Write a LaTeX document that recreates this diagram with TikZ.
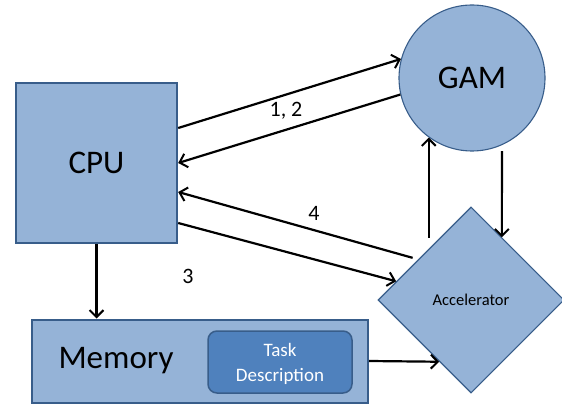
\documentclass[tikz,border=0pt]{standalone}
\usepackage{fontspec}
\setmainfont{Carlito}
\usepackage{tikz}
\usetikzlibrary{arrows.meta, positioning, shapes.geometric, calc}

\definecolor{boxfill}{HTML}{95B3D7}
\definecolor{boxline}{HTML}{385D8A}
\definecolor{taskfill}{HTML}{4F81BD}

\begin{document}
\begin{tikzpicture}[
    x=1pt, y=-1pt,
    % Block styles
    block/.style={draw=boxline, fill=boxfill, line width=1.2pt, inner sep=0pt, font=\fontsize{33}{33}\selectfont},
    cpubox/.style={block, line width=2.4pt, minimum width=161pt, minimum height=160pt},
    membox/.style={block, line width=2pt, minimum width=336pt, minimum height=83pt},
    gamcircle/.style={block, circle, line width=1.1pt, minimum size=146pt},
    accdiamond/.style={block, diamond, line width=1.1pt, minimum width=186pt, minimum height=186pt, font=\fontsize{16.5}{16.5}\selectfont},
    taskbox/.style={draw=boxline, fill=taskfill, line width=1.5pt, rounded corners=9pt, minimum width=144pt, minimum height=62pt, text=white, align=center, text depth=0pt, font=\fontsize{19}{25}\selectfont},
    label/.style={font=\fontsize{22}{22}\selectfont},
    link/.style={line width=2.2pt, -{Straight Barb[length=7pt, width=14pt, line width=2pt]}}
]
\useasboundingbox (0,0) rectangle (562,406);

% Blocks
\node[cpubox] (cpu) at (96.5,163) {CPU};
\node[gamcircle] (gam) at (472,78) {GAM};
\node[accdiamond] (acc) at (471,300) {Accelerator};
\node[membox] (mem) at (200,361) {};
\node[font=\fontsize{33}{33}\selectfont, anchor=west] (memtext) at ([xshift=24pt]mem.west) {Memory};
\node[taskbox] (task) at (280,362) {Task\\Description};

% Labels
\node[label] (l12) at (286,111) {1, 2};
\node[label] (l4) at (314,213) {4};
\node[label] (l3) at (188,276) {3};

% Connections
\draw[link] ([yshift=35pt]cpu.east) -- (gam.165);
\draw[link] (gam.193) -- (cpu.east);
\draw[link] ($(acc.north)!0.56!(acc.west)+(-6,-1)$) -- ([yshift=-29pt]cpu.east);
\draw[link] ([yshift=-60pt]cpu.east) -- ($(acc.north)!0.8!(acc.west)$);
\draw[link] (cpu.south) -- (cpu.south |- mem.north);
\draw[link] (gam.234 |- {$(acc.north)!0.4!(acc.west)+(0,-6)$}) -- (gam.234);
\draw[link] ([yshift=-6pt]gam.294) -- ($(acc.north)!0.33!(acc.east)$);
\draw[link] (mem.east) -- ($(acc.west)!0.66!(acc.south)$);

\end{tikzpicture}
\end{document}
